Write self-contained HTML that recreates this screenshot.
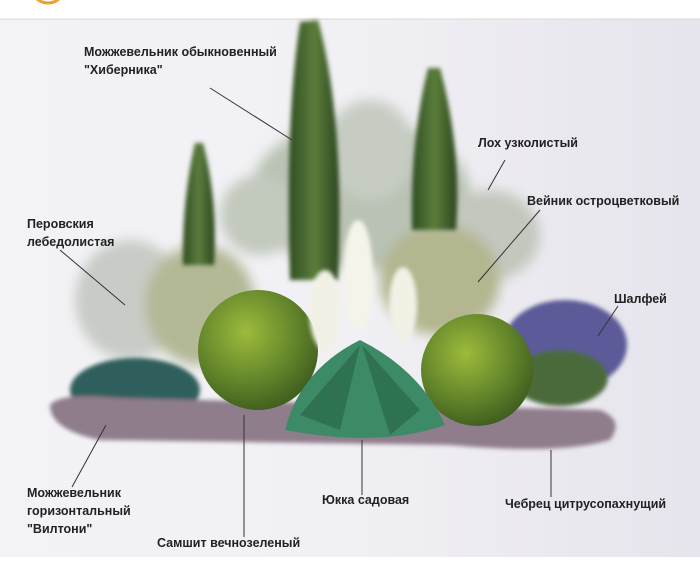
<!DOCTYPE html>
<html><head><meta charset="utf-8"><style>
html,body{margin:0;padding:0;background:#fff}
svg{display:block}
text{font-family:"Liberation Sans Narrow","Liberation Sans",sans-serif;font-size:12.5px;font-weight:bold;fill:#222}
</style></head><body>
<svg width="700" height="569" viewBox="0 0 700 569" xmlns="http://www.w3.org/2000/svg">
<defs>
<linearGradient id="bg" x1="0" y1="0" x2="1" y2="0"><stop offset="0" stop-color="#f3f3f6"/><stop offset="0.5" stop-color="#f1f0f4"/><stop offset="1" stop-color="#e6e4ec"/></linearGradient>
<radialGradient id="box" cx="0.4" cy="0.35" r="0.7"><stop offset="0" stop-color="#9dbb3c"/><stop offset="0.6" stop-color="#62842a"/><stop offset="1" stop-color="#3d5a1d"/></radialGradient>
<linearGradient id="cyp" x1="0" y1="0" x2="1" y2="0"><stop offset="0" stop-color="#2f4d22"/><stop offset="0.5" stop-color="#5b7d3b"/><stop offset="1" stop-color="#2c4620"/></linearGradient>
<filter id="b6" x="-30%" y="-30%" width="160%" height="160%"><feGaussianBlur stdDeviation="6"/></filter>
<filter id="b2" x="-20%" y="-20%" width="140%" height="140%"><feGaussianBlur stdDeviation="2"/></filter>
</defs>
<rect width="700" height="569" fill="#fff"/>
<circle cx="48" cy="-14" r="17" fill="none" stroke="#f0a030" stroke-width="3"/>
<rect x="0" y="19" width="700" height="538" fill="url(#bg)"/>
<line x1="0" y1="19" x2="700" y2="19" stroke="#d8d8d8"/>
<g filter="url(#b6)">
<ellipse cx="360" cy="195" rx="110" ry="75" fill="#b9c2b4"/>
<ellipse cx="370" cy="150" rx="45" ry="50" fill="#c6ccc2"/>
<ellipse cx="490" cy="235" rx="50" ry="45" fill="#c2c8be"/>
<ellipse cx="260" cy="215" rx="40" ry="40" fill="#c2c9bd"/>
<ellipse cx="130" cy="300" rx="55" ry="60" fill="#c8ccc6"/>
<ellipse cx="200" cy="305" rx="55" ry="60" fill="#b3b895"/>
<ellipse cx="440" cy="280" rx="60" ry="55" fill="#b3b68f"/>
</g>
<g filter="url(#b2)">
<path d="M300 22 L318 20 Q345 120 338 280 L290 280 Q285 120 300 22Z" fill="url(#cyp)"/>
<path d="M428 68 L440 68 Q462 150 456 230 L412 230 Q410 140 428 68Z" fill="url(#cyp)"/>
<path d="M195 143 L203 143 Q218 200 214 265 L183 265 Q182 200 195 143Z" fill="url(#cyp)"/>
<ellipse cx="565" cy="345" rx="62" ry="45" fill="#5b5a98"/>
<ellipse cx="560" cy="378" rx="48" ry="28" fill="#4c6a3a"/>
<ellipse cx="135" cy="390" rx="65" ry="32" fill="#2e5e5c"/>
<path d="M50 405 Q60 392 120 398 L600 410 Q625 420 610 440 Q560 455 450 445 L100 440 Q50 430 50 405Z" fill="#8f7d8c"/>
</g>
<circle cx="258" cy="350" r="60" fill="url(#box)"/>
<circle cx="477" cy="370" r="56" fill="url(#box)"/>
<path d="M285 430 Q300 370 360 340 Q420 370 445 425 Q380 448 285 430Z" fill="#3d8a67"/>
<path d="M300 415 L360 345 L340 430Z M420 410 L362 345 L390 435Z" fill="#2f7252"/>
<g filter="url(#b2)">
<ellipse cx="325" cy="310" rx="16" ry="40" fill="#f1f1e6"/>
<ellipse cx="358" cy="275" rx="15" ry="55" fill="#f4f4ea"/>
<ellipse cx="403" cy="305" rx="14" ry="38" fill="#f1f1e6"/>
</g>
<g stroke="#333" stroke-width="1">
<line x1="210" y1="88" x2="292" y2="140"/>
<line x1="505" y1="160" x2="488" y2="190"/>
<line x1="540" y1="210" x2="478" y2="282"/>
<line x1="60" y1="250" x2="125" y2="305"/>
<line x1="618" y1="306" x2="598" y2="336"/>
<line x1="72" y1="487" x2="106" y2="425"/>
<line x1="244" y1="415" x2="244" y2="537"/>
<line x1="362" y1="440" x2="362" y2="495"/>
<line x1="551" y1="450" x2="551" y2="497"/>
</g>
<text x="84" y="56">Можжевельник обыкновенный</text>
<text x="84" y="74">"Хиберника"</text>
<text x="478" y="147">Лох узколистый</text>
<text x="527" y="205">Вейник остроцветковый</text>
<text x="27" y="228">Перовския</text>
<text x="27" y="246">лебедолистая</text>
<text x="614" y="303">Шалфей</text>
<text x="27" y="497">Можжевельник</text>
<text x="27" y="515">горизонтальный</text>
<text x="27" y="533">"Вилтони"</text>
<text x="157" y="547">Самшит вечнозеленый</text>
<text x="322" y="504">Юкка садовая</text>
<text x="505" y="508">Чебрец цитрусопахнущий</text>
</svg>
</body></html>
